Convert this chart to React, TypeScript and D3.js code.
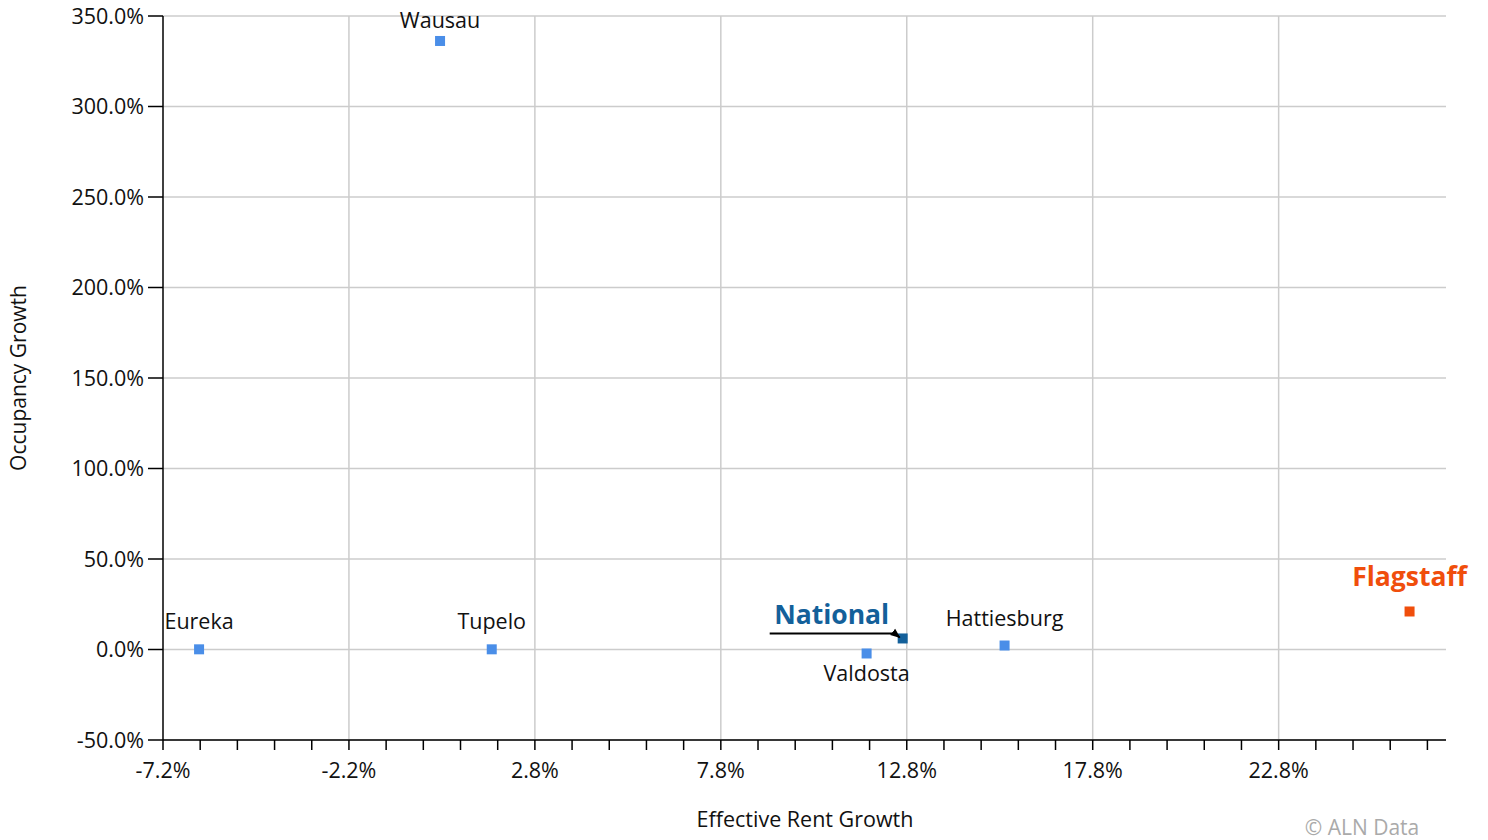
import React from "react";
import * as d3 from "d3";

const markets = ["Wausau", "Eureka", "Tupelo", "Valdosta", "National", "Hattiesburg", "Flagstaff"];
const rentGrowth = [0.25, -6.23, 1.64, 11.72, 12.69, 15.43, 26.32];
const occGrowth = [336.2, 0.1, 0.1, -2.2, 6.1, 2.2, 21.0];
const xTickValues = [-7.2, -2.2, 2.8, 7.8, 12.8, 17.8, 22.8];
const yTickValues = [-50, 0, 50, 100, 150, 200, 250, 300, 350];

const W = 1488, H = 840;
const M = { left: 163, right: 1446, top: 16, bottom: 740 };
const FONT = "'Open Sans', 'Noto Sans', sans-serif";

const labelPlace: Record<string, { dy: number; dx?: number }> = {
  Wausau: { dy: -13 },
  Eureka: { dy: -20 },
  Tupelo: { dy: -20 },
  Valdosta: { dy: 28 },
  Hattiesburg: { dy: -20 },
  Flagstaff: { dy: -25 },
};

export default function App() {
  const x = d3.scaleLinear().domain([-7.2, 27.3]).range([M.left, M.right]);
  const y = d3.scaleLinear().domain([-50, 350]).range([M.bottom, M.top]);
  const minor = d3.range(-7.2, 27.0, 1).map((v) => +v.toFixed(1));

  return (
    <svg width={W} height={H} style={{ position: "absolute", left: 0, top: 0, fontFamily: FONT }}>
      <rect width={W} height={H} fill="#fff" />
      {yTickValues.map((v) => (
        <line key={"gy" + v} x1={M.left} x2={M.right} y1={y(v)} y2={y(v)} stroke="#cccccc" strokeWidth={1.5} />
      ))}
      {xTickValues.slice(1).map((v) => (
        <line key={"gx" + v} x1={x(v)} x2={x(v)} y1={M.top} y2={M.bottom} stroke="#cccccc" strokeWidth={1.5} />
      ))}
      {/* axes */}
      <line x1={M.left} x2={M.left} y1={M.top} y2={M.bottom} stroke="#000" strokeWidth={1.5} />
      <line x1={M.left} x2={M.right} y1={M.bottom} y2={M.bottom} stroke="#000" strokeWidth={1.5} />
      {yTickValues.map((v) => (
        <g key={"ty" + v}>
          <line x1={M.left - 15} x2={M.left} y1={y(v)} y2={y(v)} stroke="#000" strokeWidth={1.5} />
          <text x={M.left - 19} y={y(v)} dy="0.35em" textAnchor="end" fontSize={21.5} fill="#111">
            {v.toFixed(1) + "%"}
          </text>
        </g>
      ))}
      {minor.map((v) => (
        <line key={"tx" + v} x1={x(v)} x2={x(v)} y1={M.bottom} y2={M.bottom + 10} stroke="#000" strokeWidth={1.5} />
      ))}
      {xTickValues.map((v) => (
        <text key={"lx" + v} x={x(v)} y={M.bottom + 38} textAnchor="middle" fontSize={21.5} fill="#111">
          {v.toFixed(1) + "%"}
        </text>
      ))}
      <text x={805} y={827} textAnchor="middle" fontSize={21.5} fill="#111">Effective Rent Growth</text>
      <text transform={`translate(26,378) rotate(-90)`} textAnchor="middle" fontSize={21} fill="#111">
        Occupancy Growth
      </text>
      <text x={1362} y={835} textAnchor="middle" fontSize={21} fill="#aaa">© ALN Data</text>

      {/* points */}
      {markets.map((m, i) => {
        const px = x(rentGrowth[i]);
        const py = y(occGrowth[i]);
        const color = m === "Flagstaff" ? "#f04e0c" : m === "National" ? "#13609a" : "#4a8ee8";
        return <rect key={"p" + m} x={px - 5} y={py - 5} width={10} height={10} fill={color} />;
      })}
      {/* labels */}
      {markets.map((m, i) => {
        const px = x(rentGrowth[i]);
        const py = y(occGrowth[i]);
        if (m === "National") {
          return (
            <g key={"l" + m}>
              <defs>
                <marker id="arr" viewBox="0 0 10 10" refX="9" refY="5" markerWidth="5" markerHeight="5" orient="auto">
                  <path d="M0,1 L10,5 L0,9 z" fill="#000" />
                </marker>
              </defs>
              <text x={px - 71} y={py - 14} textAnchor="middle" fontSize={26.5} fontWeight="bold" fill="#13609a"
                stroke="#fff" strokeWidth={3} paintOrder="stroke">
                {m}
              </text>
              <path d={`M${px - 133},${py - 5} L${px - 8},${py - 5} L${px - 3},${py - 1}`} fill="none" stroke="#000" strokeWidth={2}
                markerEnd="url(#arr)" />
            </g>
          );
        }
        const p = labelPlace[m];
        const isF = m === "Flagstaff";
        return (
          <text key={"l" + m} x={px + (p.dx || 0)} y={py + p.dy} textAnchor="middle"
            fontSize={isF ? 26.5 : 21.5} fontWeight={isF ? "bold" : "normal"} fill={isF ? "#f04e0c" : "#111"}
            stroke={isF ? "#fff" : "none"} strokeWidth={3} paintOrder="stroke">
            {m}
          </text>
        );
      })}
    </svg>
  );
}
